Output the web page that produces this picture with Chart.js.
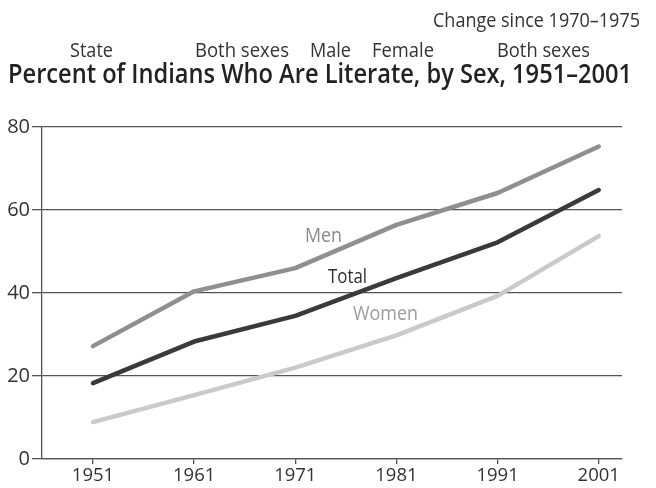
<!DOCTYPE html>
<html>
<head>
<meta charset="utf-8">
<script src="https://cdn.jsdelivr.net/npm/chart.js@4"></script>
<style>
  html, body { margin: 0; padding: 0; background: #fff; }
  #wrap { width: 656px; height: 488px; position: relative; }
</style>
</head>
<body>
<div id="wrap"><canvas id="chart" width="656" height="488"></canvas></div>
<script>
const years = [1951, 1961, 1971, 1981, 1991, 2001];
const men = [27.2, 40.4, 46.0, 56.4, 64.1, 75.3];
const total = [18.3, 28.3, 34.5, 43.6, 52.2, 64.8];
const women = [8.9, 15.4, 22.0, 29.8, 39.3, 53.7];
const yTicks = [0, 20, 40, 60, 80];

const title = 'Percent of Indians Who Are Literate, by Sex, 1951\u20132001';
const headerTop = 'Change since 1970\u20131975';
const headerCols = ['State', 'Both sexes', 'Male', 'Female', 'Both sexes'];

const FONT = '"Open Sans", sans-serif';

function pts(vals) {
  return years.map((y, i) => ({ x: y, y: vals[i] }));
}

// draw text squeezed to a given left/right span (reference font is narrower)
function spanText(ctx, text, x0, x1, baseline) {
  const w = ctx.measureText(text).width;
  const sx = (x1 - x0) / w;
  ctx.save();
  ctx.translate(x0, baseline);
  ctx.scale(sx, 1);
  ctx.fillText(text, 0, 0);
  ctx.restore();
}

const textPlugin = {
  id: 'texts',
  afterDraw(chart) {
    const ctx = chart.ctx;
    ctx.save();
    ctx.textBaseline = 'alphabetic';
    ctx.textAlign = 'left';
    ctx.fillStyle = '#333';
    ctx.font = '20px ' + FONT;
    spanText(ctx, headerTop, 433, 640, 27);
    const spans = [[70, 113], [195, 289], [310, 351], [372, 434], [497, 590]];
    headerCols.forEach((t, i) => spanText(ctx, t, spans[i][0], spans[i][1], 57));

    ctx.font = '600 27px ' + FONT;
    ctx.fillStyle = '#222';
    spanText(ctx, title, 8, 632, 83);

    // series labels
    ctx.font = '20px ' + FONT;
    ctx.fillStyle = '#8a8a8a';
    spanText(ctx, 'Men', 305, 342, 242);
    ctx.fillStyle = '#2e2e2e';
    spanText(ctx, 'Total', 328, 367, 283);
    ctx.fillStyle = '#9c9c9c';
    spanText(ctx, 'Women', 353, 418, 320);
    ctx.restore();
  }
};

new Chart(document.getElementById('chart'), {
  type: 'line',
  data: {
    datasets: [
      { label: 'Men', data: pts(men), borderColor: '#8f8f8f' },
      { label: 'Total', data: pts(total), borderColor: '#3a3a3a' },
      { label: 'Women', data: pts(women), borderColor: '#cacaca' }
    ]
  },
  options: {
    responsive: false,
    animation: false,
    layout: { padding: { top: 127, right: 34, left: 0, bottom: 0 } },
    elements: {
      line: { borderWidth: 4.5, tension: 0, borderJoinStyle: 'round', borderCapStyle: 'round' },
      point: { radius: 0 }
    },
    plugins: { legend: { display: false }, tooltip: { enabled: false } },
    scales: {
      x: {
        type: 'linear',
        min: 1945.96,
        max: 2003.3,
        afterBuildTicks: s => { s.ticks = years.map(v => ({ value: v })); },
        afterFit: s => { s.height = 29; },
        grid: { drawOnChartArea: false, drawTicks: true, tickLength: 5, color: '#555', lineWidth: 1.3 },
        border: { color: '#555', width: 1.3 },
        ticks: { color: '#333', font: { family: FONT, size: 18.5 }, padding: 1, maxRotation: 0, callback: v => String(v) }
      },
      y: {
        min: 0,
        max: 80,
        afterBuildTicks: s => { s.ticks = yTicks.map(v => ({ value: v })); },
        afterFit: s => { s.width = 42; },
        grid: { color: '#555', lineWidth: 1.3, tickLength: 10 },
        border: { color: '#555', width: 1.3 },
        ticks: { color: '#333', font: { family: FONT, size: 20 }, padding: 2 }
      }
    }
  },
  plugins: [textPlugin]
});
</script>
</body>
</html>
